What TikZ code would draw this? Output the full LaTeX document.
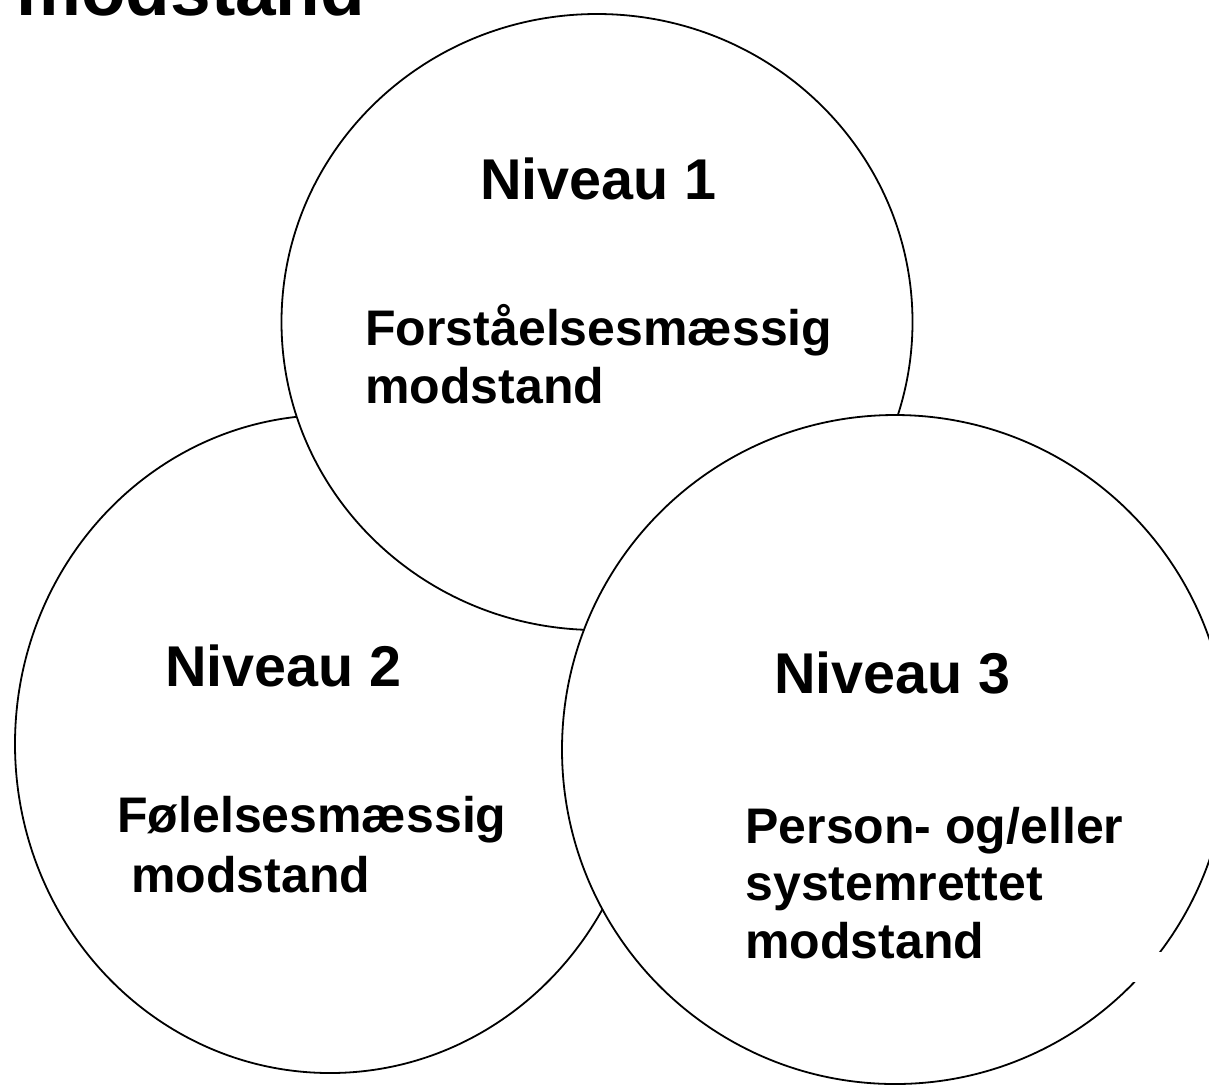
\documentclass[tikz,border=0pt]{standalone}
\usepackage{fontspec}
\setmainfont{Liberation Sans}
\usetikzlibrary{positioning}
\tikzset{
  level/.style={anchor=base west, inner sep=0pt, font=\bfseries\fontsize{28.75}{33}\selectfont},
  resist/.style={anchor=base west, inner sep=0pt, align=left, font=\bfseries\fontsize{25}{28.75}\selectfont},
  ring/.style={draw=black, line width=0.9pt, fill=white}
}
\begin{document}
\begin{tikzpicture}[x=0.5pt, y=-0.5pt]
				\useasboundingbox (0,0) rectangle (1209,1084);
				\clip (0,0) rectangle (1209,1084);
				\node[anchor=base west, inner sep=0pt, font=\bfseries\fontsize{36.5}{42}\selectfont] (title) at (16,15) {modstand};
				% the three rings, later ones on top
				\draw[ring] (330,744) ellipse [x radius=315, y radius=329];
				\draw[ring] (597,322) ellipse [x radius=315.5, y radius=308];
				\draw[ring] (895,749.5) ellipse [x radius=333, y radius=334.5];
				\fill[white] (1128,952) rectangle (1209,982);
				% multi-line nodes sit on the baseline of their last line
				\node[level] (niv1) at (480,199) {Niveau 1};
				\node[resist] (res1) at (365,403) {Forståelsesmæssig\\modstand};
				\node[level] (niv2) at (165,686) {Niveau 2};
				\node[resist, font=\bfseries\fontsize{25}{30}\selectfont] (res2) at (117,892) {Følelsesmæssig\\\hspace*{0.278em}modstand};
				\node[level] (niv3) at (774,693) {Niveau 3};
				\node[resist] (res3) at (745,958) {Person- og/eller\\systemrettet\\modstand};
\end{tikzpicture}
\end{document}
